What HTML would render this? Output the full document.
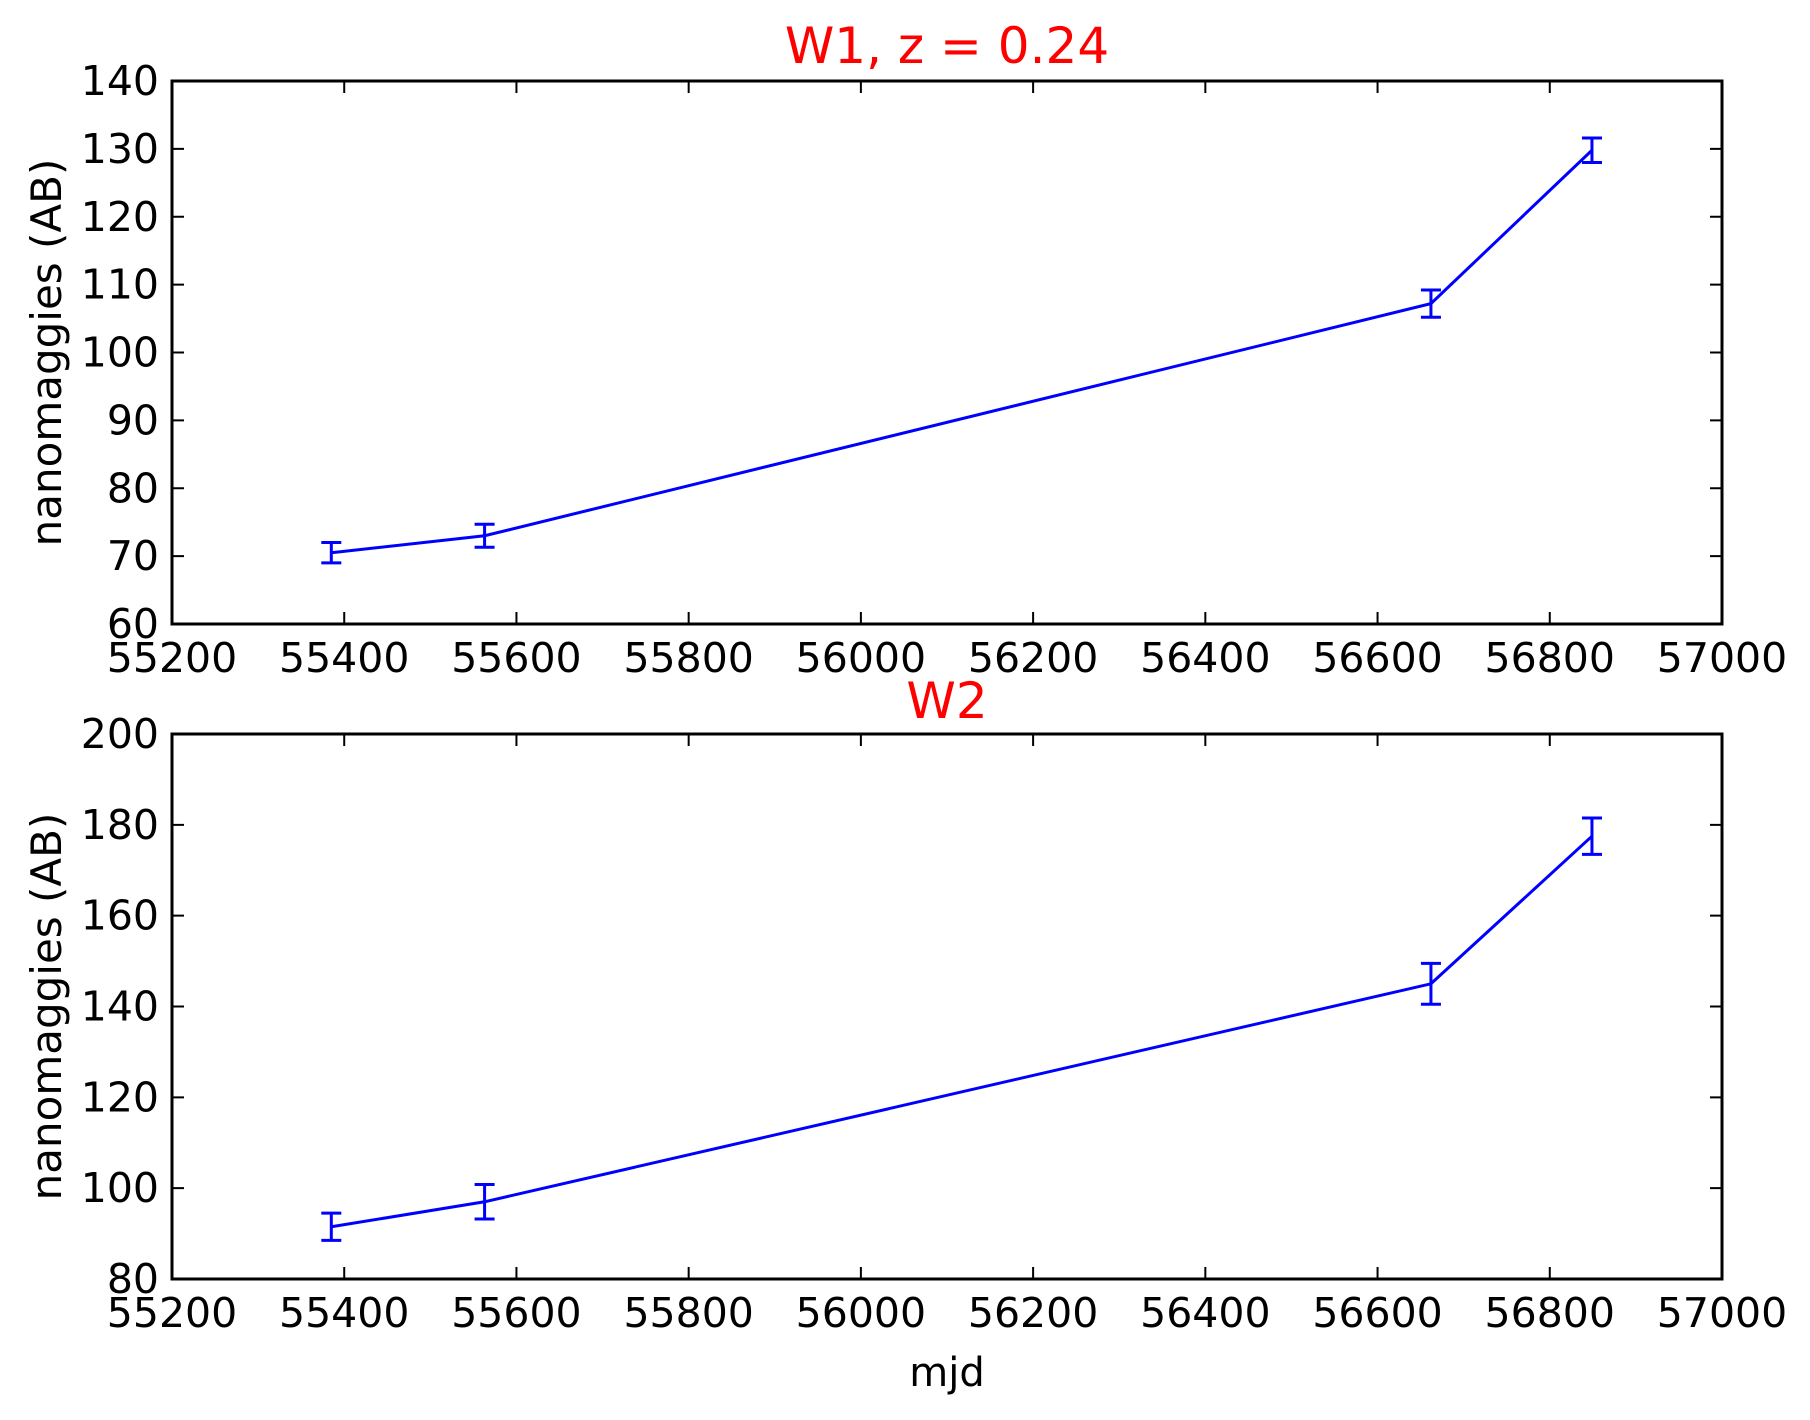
<!DOCTYPE html>
<html><head><meta charset="utf-8"><style>body{margin:0;background:#fff}svg{display:block}</style></head>
<body>
<svg id="fig" xmlns="http://www.w3.org/2000/svg" width="1810" height="1420" font-family="DejaVu Sans, Liberation Sans, sans-serif"></svg>
<script>
const mjd = [55385, 55563, 56662, 56849];
const w1Values = [70.5, 73.0, 107.2, 129.8];
const w1Errors = [1.5, 1.7, 2.0, 1.8];
const w2Values = [91.5, 97.0, 145.0, 177.5];
const w2Errors = [3.0, 3.8, 4.5, 4.0];
const xTicks = [55200, 55400, 55600, 55800, 56000, 56200, 56400, 56600, 56800, 57000];
const w1Ticks = [60, 70, 80, 90, 100, 110, 120, 130, 140];
const w2Ticks = [80, 100, 120, 140, 160, 180, 200];

const svg = document.getElementById('fig');
const NS = 'http://www.w3.org/2000/svg';
function el(tag, attrs, parent) {
  const e = document.createElementNS(NS, tag);
  for (const k in attrs) e.setAttribute(k, attrs[k]);
  (parent || svg).appendChild(e);
  return e;
}
const L = 172, R = 1722;
function xs(v) { return L + (v - 55200) / 1800 * (R - L); }

function panel(name, top, bot, ymin, ymax, yTicks, vals, errs, title, titleY) {
  const g = el('g', {});
  
  
  const ys = v => bot - (v - ymin) / (ymax - ymin) * (bot - top);
  xTicks.forEach(t => {
    const x = xs(t);
    const tk = el('path', {d: `M${x},${bot}v-12M${x},${top}v12`, stroke: '#000', 'stroke-width': 2}, g);
    
    
    const lb = el('text', {x: x, y: bot + 48, 'text-anchor': 'middle', 'font-size': 41}, g);
    lb.textContent = t;
    
    
  });
  yTicks.forEach(t => {
    const y = ys(t);
    const tk = el('path', {d: `M${L},${y}h12M${R},${y}h-12`, stroke: '#000', 'stroke-width': 2}, g);
    
    
    const lb = el('text', {x: 159, y: y + 14, 'text-anchor': 'end', 'font-size': 41}, g);
    lb.textContent = t;
    
    
  });
  const pts = mjd.map((m, i) => xs(m) + ',' + ys(vals[i])).join(' ');
  const line = el('polyline', {points: pts, fill: 'none', stroke: '#0000ff', 'stroke-width': 3}, g);
  
  
  mjd.forEach((m, i) => {
    const x = xs(m), y1 = ys(vals[i] - errs[i]), y2 = ys(vals[i] + errs[i]);
    const eb = el('path', {d: `M${x},${y1}V${y2}M${x-10},${y1}h20M${x-10},${y2}h20`, stroke: '#0000ff', 'stroke-width': 3, fill: 'none'}, g);
    
    
  });
  const fr = el('rect', {x: L, y: top, width: R - L, height: bot - top, fill: 'none', stroke: '#000', 'stroke-width': 3}, g);
  
  
  const yl = el('text', {x: 0, y: 0, 'text-anchor': 'middle', 'font-size': 42, transform: `translate(61,${(top+bot)/2}) rotate(-90)`}, g);
  yl.textContent = 'nanomaggies (AB)';
  
  
  const tt = el('text', {x: (L + R) / 2, y: titleY, 'text-anchor': 'middle', 'font-size': 50, fill: '#ff0000'}, g);
  tt.textContent = title;
  
  
}
panel('w1', 81, 624, 60, 140, w1Ticks, w1Values, w1Errors, 'W1, z = 0.24', 63);
panel('w2', 734, 1279, 80, 200, w2Ticks, w2Values, w2Errors, 'W2', 718);
const xl = el('text', {x: (L + R) / 2, y: 1386, 'text-anchor': 'middle', 'font-size': 40});
xl.textContent = 'mjd';


</script>
</body></html>
